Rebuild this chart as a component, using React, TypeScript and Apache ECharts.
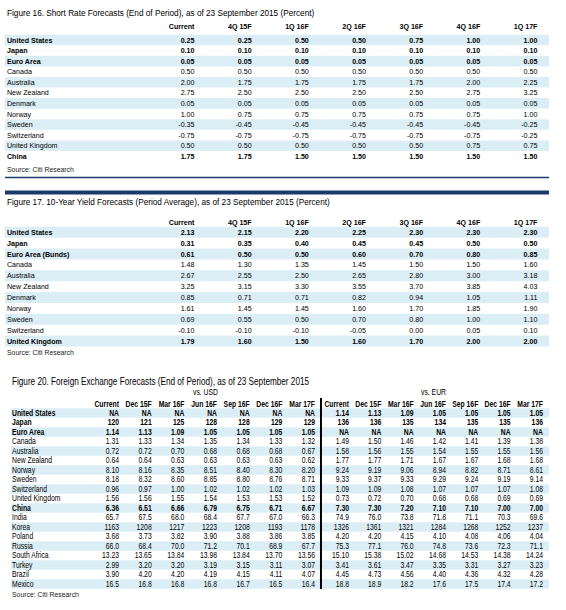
import React, { useEffect, useRef } from 'react';
import * as echarts from 'echarts';

const FONT = "'Liberation Sans', Arial, sans-serif";
const HL = '#DCEEF5';
const NAVY = '#1B3A6B';
const INK = '#000000';

// ---------- Figure 16 ----------
const FIG16_TITLE = 'Figure 16. Short Rate Forecasts (End of Period), as of 23 September 2015 (Percent)';
const FIG16_COLS = ['Current', '4Q 15F', '1Q 16F', '2Q 16F', '3Q 16F', '4Q 16F', '1Q 17F'];
const FIG16_ROWS = ['United States', 'Japan', 'Euro Area', 'Canada', 'Australia', 'New Zealand', 'Denmark', 'Norway', 'Sweden', 'Switzerland', 'United Kingdom', 'China'];
const FIG16_BOLD = ['United States', 'Japan', 'Euro Area', 'China'];
const FIG16_VALUES = [
  ['0.25', '0.25', '0.50', '0.50', '0.75', '1.00', '1.00'],
  ['0.10', '0.10', '0.10', '0.10', '0.10', '0.10', '0.10'],
  ['0.05', '0.05', '0.05', '0.05', '0.05', '0.05', '0.05'],
  ['0.50', '0.50', '0.50', '0.50', '0.50', '0.50', '0.50'],
  ['2.00', '1.75', '1.75', '1.75', '1.75', '2.00', '2.25'],
  ['2.75', '2.50', '2.50', '2.50', '2.50', '2.75', '3.25'],
  ['0.05', '0.05', '0.05', '0.05', '0.05', '0.05', '0.05'],
  ['1.00', '0.75', '0.75', '0.75', '0.75', '0.75', '1.00'],
  ['-0.35', '-0.45', '-0.45', '-0.45', '-0.45', '-0.45', '-0.25'],
  ['-0.75', '-0.75', '-0.75', '-0.75', '-0.75', '-0.75', '-0.25'],
  ['0.50', '0.50', '0.50', '0.50', '0.50', '0.75', '0.75'],
  ['1.75', '1.75', '1.50', '1.50', '1.50', '1.50', '1.50'],
];

// ---------- Figure 17 ----------
const FIG17_TITLE = 'Figure 17. 10-Year Yield Forecasts (Period Average), as of 23 September 2015 (Percent)';
const FIG17_COLS = ['Current', '4Q 15F', '1Q 16F', '2Q 16F', '3Q 16F', '4Q 16F', '1Q 17F'];
const FIG17_ROWS = ['United States', 'Japan', 'Euro Area (Bunds)', 'Canada', 'Australia', 'New Zealand', 'Denmark', 'Norway', 'Sweden', 'Switzerland', 'United Kingdom'];
const FIG17_BOLD = ['United States', 'Japan', 'Euro Area (Bunds)', 'United Kingdom'];
const FIG17_VALUES = [
  ['2.13', '2.15', '2.20', '2.25', '2.30', '2.30', '2.30'],
  ['0.31', '0.35', '0.40', '0.45', '0.45', '0.50', '0.50'],
  ['0.61', '0.50', '0.50', '0.60', '0.70', '0.80', '0.85'],
  ['1.48', '1.30', '1.35', '1.45', '1.50', '1.50', '1.60'],
  ['2.67', '2.55', '2.50', '2.65', '2.80', '3.00', '3.18'],
  ['3.25', '3.15', '3.30', '3.55', '3.70', '3.85', '4.03'],
  ['0.85', '0.71', '0.71', '0.82', '0.94', '1.05', '1.11'],
  ['1.61', '1.45', '1.45', '1.60', '1.70', '1.85', '1.90'],
  ['0.69', '0.55', '0.50', '0.70', '0.80', '1.00', '1.10'],
  ['-0.10', '-0.10', '-0.10', '-0.05', '0.00', '0.05', '0.10'],
  ['1.79', '1.60', '1.50', '1.60', '1.70', '2.00', '2.00'],
];

// ---------- Figure 20 ----------
const FIG20_TITLE = 'Figure 20. Foreign Exchange Forecasts (End of Period), as of 23 September 2015';
const FIG20_COLS = ['Current', 'Dec 15F', 'Mar 16F', 'Jun 16F', 'Sep 16F', 'Dec 16F', 'Mar 17F'];
const FIG20_ROWS = ['United States', 'Japan', 'Euro Area', 'Canada', 'Australia', 'New Zealand', 'Norway', 'Sweden', 'Switzerland', 'United Kingdom', 'China', 'India', 'Korea', 'Poland', 'Russia', 'South Africa', 'Turkey', 'Brazil', 'Mexico'];
const FIG20_BOLD = ['United States', 'Japan', 'Euro Area', 'China'];
const FIG20_USD = [
  ['NA', 'NA', 'NA', 'NA', 'NA', 'NA', 'NA'],
  ['120', '121', '125', '128', '128', '129', '129'],
  ['1.14', '1.13', '1.09', '1.05', '1.05', '1.05', '1.05'],
  ['1.31', '1.33', '1.34', '1.35', '1.34', '1.33', '1.32'],
  ['0.72', '0.72', '0.70', '0.68', '0.68', '0.68', '0.67'],
  ['0.64', '0.64', '0.63', '0.63', '0.63', '0.63', '0.62'],
  ['8.10', '8.16', '8.35', '8.51', '8.40', '8.30', '8.20'],
  ['8.18', '8.32', '8.60', '8.85', '8.80', '8.76', '8.71'],
  ['0.96', '0.97', '1.00', '1.02', '1.02', '1.02', '1.03'],
  ['1.56', '1.56', '1.55', '1.54', '1.53', '1.53', '1.52'],
  ['6.36', '6.51', '6.66', '6.79', '6.75', '6.71', '6.67'],
  ['65.7', '67.5', '68.0', '68.4', '67.7', '67.0', '66.3'],
  ['1163', '1208', '1217', '1223', '1208', '1193', '1178'],
  ['3.68', '3.73', '3.82', '3.90', '3.88', '3.86', '3.85'],
  ['66.0', '68.4', '70.0', '71.2', '70.1', '68.9', '67.7'],
  ['13.23', '13.65', '13.84', '13.98', '13.84', '13.70', '13.56'],
  ['2.99', '3.20', '3.20', '3.19', '3.15', '3.11', '3.07'],
  ['3.90', '4.20', '4.20', '4.19', '4.15', '4.11', '4.07'],
  ['16.5', '16.8', '16.8', '16.8', '16.7', '16.5', '16.4'],
];
const FIG20_EUR = [
  ['1.14', '1.13', '1.09', '1.05', '1.05', '1.05', '1.05'],
  ['136', '136', '135', '134', '135', '135', '136'],
  ['NA', 'NA', 'NA', 'NA', 'NA', 'NA', 'NA'],
  ['1.49', '1.50', '1.46', '1.42', '1.41', '1.39', '1.38'],
  ['1.58', '1.56', '1.55', '1.54', '1.55', '1.55', '1.56'],
  ['1.77', '1.77', '1.71', '1.67', '1.67', '1.68', '1.68'],
  ['9.24', '9.19', '9.06', '8.94', '8.82', '8.71', '8.61'],
  ['9.33', '9.37', '9.33', '9.29', '9.24', '9.19', '9.14'],
  ['1.09', '1.09', '1.08', '1.07', '1.07', '1.07', '1.08'],
  ['0.73', '0.72', '0.70', '0.68', '0.68', '0.69', '0.69'],
  ['7.30', '7.30', '7.20', '7.10', '7.10', '7.00', '7.00'],
  ['74.9', '76.0', '73.8', '71.8', '71.1', '70.3', '69.6'],
  ['1326', '1361', '1321', '1284', '1268', '1252', '1237'],
  ['4.20', '4.20', '4.15', '4.10', '4.08', '4.06', '4.04'],
  ['75.3', '77.1', '76.0', '74.8', '73.6', '72.3', '71.1'],
  ['15.10', '15.38', '15.02', '14.68', '14.53', '14.38', '14.24'],
  ['3.41', '3.61', '3.47', '3.35', '3.31', '3.27', '3.23'],
  ['4.45', '4.73', '4.56', '4.40', '4.36', '4.32', '4.28'],
  ['18.8', '18.9', '18.2', '17.6', '17.5', '17.4', '17.2'],
];
const SOURCE = 'Source: Citi Research';

type Spec = {
  rows: string[];
  cols: string[];
  values: string[][];
  bold: string[];
  left: number;
  colW: number;
  top: number;
  rowH: number;
  headerY: number;
  labelX: number;
  bandX0: number;
  bandX1: number;
  fontSize: number;
  sx: number;
  showRowLabels: boolean;
  highlight: boolean;
  divider?: { dx: number; y0: number; y1: number };
};

function textEl(text: string, x: number, y: number, size: number, sx: number, weight: string, align: string, fill = INK) {
  return {
    type: 'text', x, y, scaleX: sx, originX: 0, originY: 0,
    style: {
      text, fontFamily: FONT, fontSize: size, fontWeight: weight, fill,
      align, verticalAlign: 'middle', textAlign: align, textVerticalAlign: 'middle',
    },
  };
}

function addTable(opt: any, s: Spec) {
  const gi = opt.grid.length;
  opt.grid.push({ left: s.left, top: s.top, width: s.colW * s.cols.length, height: s.rowH * s.rows.length, containLabel: false });
  opt.xAxis.push({ type: 'category', gridIndex: gi, data: s.cols, position: 'top', show: false });
  opt.yAxis.push({ type: 'category', gridIndex: gi, data: s.rows, inverse: true, show: false });
  const boldSet = new Set(s.bold);
  if (s.highlight) {
    const hdata: number[][] = [];
    s.rows.forEach((_, i) => { if (i % 2 === 0) hdata.push([0, i]); });
    opt.series.push({
      type: 'custom', xAxisIndex: gi, yAxisIndex: gi, z: 1, silent: true, clip: false,
      data: hdata,
      renderItem: (_p: any, api: any) => {
        const pt = api.coord([0, api.value(1)]);
        const h = api.size([0, 1])[1];
        return { type: 'rect', shape: { x: s.bandX0, y: pt[1] - h / 2, width: s.bandX1 - s.bandX0, height: h }, style: { fill: HL } };
      },
    });
  }
  // column headers
  opt.series.push({
    type: 'custom', xAxisIndex: gi, yAxisIndex: gi, z: 5, silent: true, clip: false,
    data: s.cols.map((_, c) => [c, 0]),
    renderItem: (_p: any, api: any) => {
      const c = api.value(0);
      const pt = api.coord([c, 0]);
      return textEl(s.cols[c], pt[0], s.headerY, s.fontSize, s.sx, 'bold', 'right');
    },
  });
  // row labels
  if (s.showRowLabels) {
    opt.series.push({
      type: 'custom', xAxisIndex: gi, yAxisIndex: gi, z: 5, silent: true, clip: false,
      data: s.rows.map((_, r) => [0, r]),
      renderItem: (_p: any, api: any) => {
        const r = api.value(1);
        const pt = api.coord([0, r]);
        const name = s.rows[r];
        return textEl(name, s.labelX, pt[1], s.fontSize, s.sx, boldSet.has(name) ? 'bold' : 'normal', 'left');
      },
    });
  }
  // cells
  const cells: number[][] = [];
  s.rows.forEach((_, r) => s.cols.forEach((__, c) => cells.push([c, r])));
  opt.series.push({
    type: 'custom', xAxisIndex: gi, yAxisIndex: gi, z: 5, silent: true, clip: false,
    data: cells,
    renderItem: (_p: any, api: any) => {
      const c = api.value(0);
      const r = api.value(1);
      const pt = api.coord([c, r]);
      return textEl(s.values[r][c], pt[0], pt[1], s.fontSize, s.sx, boldSet.has(s.rows[r]) ? 'bold' : 'normal', 'right');
    },
  });
  if (s.divider) {
    const d = s.divider;
    opt.series.push({
      type: 'custom', xAxisIndex: gi, yAxisIndex: gi, z: 6, silent: true, clip: false,
      data: [[0, 0]],
      renderItem: (_p: any, api: any) => {
        const pt = api.coord([0, 0]);
        const x = pt[0] + d.dx;
        return { type: 'line', shape: { x1: x, y1: d.y0, x2: x, y2: d.y1 }, style: { stroke: '#000', lineWidth: 2 } };
      },
    });
  }
}

let measureCtx: CanvasRenderingContext2D | null = null;
function measure(text: string, size: number, weight: string) {
  if (!measureCtx) measureCtx = document.createElement('canvas').getContext('2d');
  if (!measureCtx) return text.length * size * 0.5;
  measureCtx.font = `${weight} ${size}px ${FONT}`;
  return measureCtx.measureText(text).width;
}

function fitText(text: string, x: number, y: number, size: number, width: number, opts: any = {}) {
  const weight = opts.weight || 'normal';
  const w = measure(text, size, weight);
  const sx = w > 0 ? width / w : 1;
  const el: any = textEl(text, x, y, size, sx, weight, opts.align || 'left', opts.fill || INK);
  el.z = 20;
  return el;
}

export default function App() {
  const ref = useRef<HTMLDivElement>(null);
  useEffect(() => {
    if (!ref.current) return;
    const chart = echarts.init(ref.current, null, { renderer: 'svg' });
    const opt: any = { animation: false, backgroundColor: '#fff', grid: [], xAxis: [], yAxis: [], series: [] };

    addTable(opt, {
      rows: FIG16_ROWS, cols: FIG16_COLS, values: FIG16_VALUES, bold: FIG16_BOLD,
      left: 165.9, colW: 58.17, top: 34.7, rowH: 10.57, headerY: 26.7, labelX: 7,
      bandX0: 5, bandX1: 549, fontSize: 7.9, sx: 0.9, showRowLabels: true, highlight: true,
    });
    addTable(opt, {
      rows: FIG17_ROWS, cols: FIG17_COLS, values: FIG17_VALUES, bold: FIG17_BOLD,
      left: 165.9, colW: 58.17, top: 226.8, rowH: 10.875, headerY: 222.3, labelX: 7,
      bandX0: 5, bandX1: 549, fontSize: 7.9, sx: 0.9, showRowLabels: true, highlight: true,
    });
    addTable(opt, {
      rows: FIG20_ROWS, cols: FIG20_COLS, values: FIG20_USD, bold: FIG20_BOLD,
      left: 102.67, colW: 32.67, top: 408.25, rowH: 9.5, headerY: 404, labelX: 12,
      bandX0: 11, bandX1: 549, fontSize: 8.3, sx: 0.82, showRowLabels: true, highlight: true,
    });
    addTable(opt, {
      rows: FIG20_ROWS, cols: FIG20_COLS, values: FIG20_EUR, bold: FIG20_BOLD,
      left: 332.8, colW: 32.33, top: 408.25, rowH: 9.5, headerY: 404, labelX: 12,
      bandX0: 11, bandX1: 549, fontSize: 8.3, sx: 0.82, showRowLabels: false, highlight: false,
      divider: { dx: -28, y0: 398, y1: 589 },
    });

    opt.graphic = {
      elements: [
        fitText(FIG16_TITLE, 7, 12.5, 9.2, 307),
        fitText(SOURCE, 7, 169.5, 7.5, 67, { fill: '#222' }),
        { type: 'line', z: 20, shape: { x1: 5, y1: 177.5, x2: 549, y2: 177.5 }, style: { stroke: NAVY, lineWidth: 1.5 } },
        { type: 'rect', z: 20, shape: { x: 5, y: 190.5, width: 544, height: 4 }, style: { fill: NAVY } },
        fitText(FIG17_TITLE, 7, 202, 9.2, 323),
        fitText(SOURCE, 7, 352.7, 7.5, 67, { fill: '#222' }),
        fitText(FIG20_TITLE, 12, 382, 10.2, 297),
        fitText('vs. USD', 205.5, 392.7, 8.3, 25, { align: 'center' }),
        fitText('vs. EUR', 433.5, 392.7, 8.3, 25, { align: 'center' }),
        fitText(SOURCE, 12, 594, 8, 67, { fill: '#222' }),
      ],
    };

    chart.setOption(opt);
    return () => chart.dispose();
  }, []);
  return <div ref={ref} style={{ position: 'absolute', left: 0, top: 0, width: 566, height: 610, background: '#fff' }} />;
}
